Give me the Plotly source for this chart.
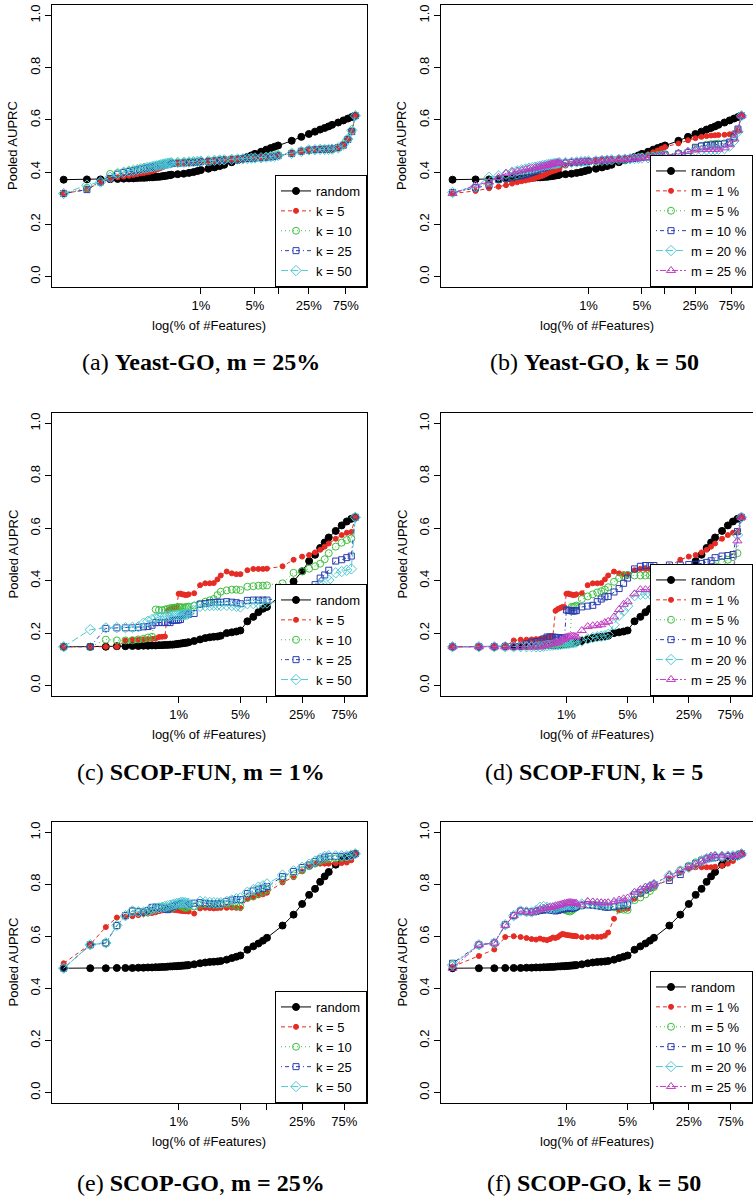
import math
import plotly.graph_objects as go

W, H = 753, 1198

# ---------------- x grids (number of selected features) ----------------
yeast_total_features = 6000
yeast_feature_counts = list(range(1, 26)) + [
    30, 36, 42, 48, 54, 60, 75, 90, 105, 120, 150, 180, 210, 240, 270, 300,
    360, 420, 480, 540, 600, 900, 1200, 1500, 1800, 2100, 2400, 2700, 3000,
    3600, 4200, 4800, 5400, 6000]
scop_total_features = 2000
scop_feature_counts = list(range(1, 27)) + [
    30, 35, 40, 45, 50, 55, 60, 70, 80, 90, 100, 120, 140, 160, 180, 200,
    300, 400, 500, 600, 700, 800, 900, 1000, 1200, 1400, 1600, 1800, 2000]

yeast_pct = [100.0 * c / yeast_total_features for c in yeast_feature_counts]
scop_pct = [100.0 * c / scop_total_features for c in scop_feature_counts]

# ---------------- Yeast-GO ----------------
yeast_random = [0.371, 0.372, 0.372, 0.373, 0.374, 0.375, 0.376, 0.376, 0.377, 0.378, 0.378, 0.379, 0.380,
                0.380, 0.381, 0.382, 0.382, 0.383, 0.384, 0.385, 0.386, 0.387, 0.388, 0.389, 0.390,
                0.392, 0.394, 0.397, 0.400, 0.404, 0.408, 0.413, 0.418, 0.423, 0.428, 0.438, 0.446, 0.452,
                0.458, 0.464, 0.470, 0.478, 0.486, 0.492, 0.497, 0.502, 0.520, 0.535, 0.546, 0.555, 0.563,
                0.569, 0.575, 0.581, 0.590, 0.598, 0.605, 0.611, 0.616]
yeast_k5 = [0.318, 0.333, 0.362, 0.375, 0.380, 0.383, 0.386, 0.389, 0.392, 0.395, 0.397, 0.399, 0.401,
            0.404, 0.407, 0.410, 0.413, 0.416, 0.419, 0.422, 0.425, 0.427, 0.429, 0.431, 0.433,
            0.435, 0.437, 0.438, 0.439, 0.440, 0.441, 0.443, 0.444, 0.446, 0.447, 0.449, 0.450, 0.451,
            0.452, 0.453, 0.454, 0.455, 0.457, 0.459, 0.461, 0.464, 0.472, 0.479, 0.484, 0.486, 0.487,
            0.487, 0.487, 0.488, 0.493, 0.504, 0.526, 0.558, 0.616]
yeast_k10 = [0.318, 0.340, 0.362, 0.393, 0.396, 0.400, 0.404, 0.407, 0.410, 0.413, 0.415, 0.417, 0.419,
             0.421, 0.423, 0.425, 0.427, 0.429, 0.430, 0.431, 0.432, 0.433, 0.434, 0.435, 0.436,
             0.437, 0.438, 0.439, 0.440, 0.441, 0.442, 0.443, 0.445, 0.446, 0.447, 0.449, 0.450, 0.451,
             0.452, 0.453, 0.454, 0.456, 0.458, 0.461, 0.463, 0.466, 0.473, 0.480, 0.485, 0.486, 0.487,
             0.487, 0.488, 0.488, 0.493, 0.505, 0.527, 0.558, 0.616]
yeast_k25 = [0.318, 0.333, 0.362, 0.376, 0.392, 0.398, 0.402, 0.405, 0.408, 0.411, 0.413, 0.415, 0.417,
             0.419, 0.421, 0.422, 0.424, 0.425, 0.427, 0.428, 0.429, 0.430, 0.431, 0.432, 0.433,
             0.434, 0.435, 0.436, 0.437, 0.438, 0.440, 0.441, 0.443, 0.445, 0.447, 0.449, 0.450, 0.451,
             0.452, 0.453, 0.454, 0.455, 0.457, 0.458, 0.460, 0.463, 0.471, 0.480, 0.484, 0.486, 0.487,
             0.488, 0.488, 0.489, 0.494, 0.503, 0.525, 0.555, 0.616]
yeast_k50 = [0.318, 0.350, 0.362, 0.380, 0.395, 0.400, 0.404, 0.407, 0.410, 0.413, 0.415, 0.417, 0.419,
             0.421, 0.423, 0.424, 0.426, 0.428, 0.429, 0.431, 0.432, 0.433, 0.434, 0.435, 0.436,
             0.437, 0.438, 0.439, 0.440, 0.441, 0.442, 0.443, 0.445, 0.446, 0.447, 0.449, 0.450, 0.451,
             0.452, 0.453, 0.454, 0.455, 0.457, 0.459, 0.461, 0.464, 0.472, 0.479, 0.485, 0.486, 0.487,
             0.487, 0.487, 0.488, 0.493, 0.505, 0.527, 0.560, 0.616]
yeast_m1 = [0.318, 0.328, 0.338, 0.344, 0.350, 0.356, 0.361, 0.365, 0.368, 0.371, 0.374, 0.377, 0.380,
            0.383, 0.386, 0.390, 0.394, 0.398, 0.401, 0.403, 0.405, 0.407, 0.409, 0.411, 0.413,
            0.425, 0.432, 0.436, 0.438, 0.440, 0.441, 0.443, 0.445, 0.446, 0.447, 0.449, 0.450, 0.452,
            0.455, 0.457, 0.460, 0.468, 0.476, 0.483, 0.490, 0.496, 0.510, 0.522, 0.530, 0.535, 0.538,
            0.540, 0.541, 0.542, 0.543, 0.545, 0.550, 0.565, 0.616]
yeast_m5 = [0.320, 0.340, 0.360, 0.370, 0.376, 0.382, 0.388, 0.393, 0.397, 0.401, 0.405, 0.408, 0.411,
            0.414, 0.417, 0.419, 0.421, 0.423, 0.425, 0.427, 0.428, 0.429, 0.430, 0.431, 0.432,
            0.434, 0.436, 0.438, 0.439, 0.440, 0.441, 0.443, 0.445, 0.446, 0.447, 0.449, 0.450, 0.452,
            0.454, 0.456, 0.458, 0.461, 0.463, 0.465, 0.467, 0.469, 0.472, 0.476, 0.490, 0.500, 0.505,
            0.507, 0.508, 0.509, 0.510, 0.512, 0.530, 0.560, 0.616]
yeast_m10 = [0.322, 0.340, 0.350, 0.372, 0.376, 0.380, 0.383, 0.386, 0.390, 0.395, 0.400, 0.404, 0.408,
             0.412, 0.415, 0.418, 0.421, 0.423, 0.425, 0.427, 0.429, 0.430, 0.431, 0.432, 0.433,
             0.435, 0.437, 0.438, 0.439, 0.440, 0.441, 0.443, 0.445, 0.446, 0.447, 0.449, 0.450, 0.451,
             0.452, 0.454, 0.456, 0.458, 0.460, 0.462, 0.464, 0.466, 0.470, 0.475, 0.495, 0.500, 0.502,
             0.504, 0.505, 0.506, 0.508, 0.515, 0.535, 0.565, 0.616]
yeast_m20 = [0.322, 0.345, 0.380, 0.385, 0.392, 0.400, 0.405, 0.409, 0.412, 0.415, 0.417, 0.419, 0.421,
             0.423, 0.425, 0.426, 0.428, 0.429, 0.430, 0.431, 0.432, 0.433, 0.434, 0.435, 0.436,
             0.437, 0.438, 0.439, 0.440, 0.441, 0.442, 0.443, 0.445, 0.446, 0.447, 0.449, 0.450, 0.451,
             0.452, 0.453, 0.454, 0.455, 0.456, 0.458, 0.460, 0.462, 0.468, 0.475, 0.482, 0.484, 0.485,
             0.486, 0.486, 0.487, 0.490, 0.500, 0.520, 0.555, 0.616]
yeast_m25 = yeast_k50  # same setting (k = 50, m = 25%)

# ---------------- SCOP-FUN ----------------
scopfun_random = [0.148, 0.148, 0.148, 0.150, 0.150, 0.151, 0.151, 0.152, 0.152, 0.153, 0.153, 0.154, 0.154,
                  0.155, 0.155, 0.156, 0.156, 0.157, 0.158, 0.159, 0.160, 0.161, 0.162, 0.163, 0.164, 0.165,
                  0.170, 0.176, 0.181, 0.184, 0.186, 0.187, 0.190, 0.200, 0.203, 0.206, 0.210, 0.245, 0.262,
                  0.280, 0.293, 0.300, 0.350, 0.397, 0.436, 0.475, 0.499, 0.525, 0.546, 0.565, 0.590, 0.611,
                  0.626, 0.636, 0.642]
scopfun_k5 = [0.148, 0.148, 0.148, 0.148, 0.172, 0.175, 0.175, 0.176, 0.177, 0.178, 0.180, 0.185, 0.186,
              0.187, 0.285, 0.292, 0.296, 0.300, 0.299, 0.350, 0.351, 0.348, 0.347, 0.345, 0.346, 0.348,
              0.352, 0.383, 0.390, 0.390, 0.391, 0.405, 0.420, 0.435, 0.428, 0.425, 0.425, 0.440, 0.445,
              0.445, 0.445, 0.446, 0.455, 0.480, 0.492, 0.498, 0.508, 0.518, 0.530, 0.542, 0.560, 0.574,
              0.583, 0.586, 0.642]
scopfun_k10 = [0.148, 0.148, 0.175, 0.172, 0.172, 0.173, 0.176, 0.178, 0.183, 0.186, 0.290, 0.288, 0.287,
               0.290, 0.292, 0.295, 0.296, 0.297, 0.298, 0.300, 0.299, 0.298, 0.297, 0.299, 0.300, 0.301,
               0.305, 0.312, 0.320, 0.325, 0.330, 0.345, 0.358, 0.363, 0.366, 0.366, 0.364, 0.377, 0.379,
               0.381, 0.381, 0.382, 0.390, 0.430, 0.436, 0.446, 0.455, 0.465, 0.482, 0.505, 0.530, 0.545,
               0.555, 0.561, 0.642]
scopfun_k25 = [0.148, 0.148, 0.218, 0.220, 0.220, 0.220, 0.222, 0.224, 0.225, 0.230, 0.240, 0.240, 0.241,
               0.240, 0.241, 0.240, 0.248, 0.250, 0.249, 0.250, 0.252, 0.268, 0.270, 0.271, 0.272, 0.272,
               0.275, 0.310, 0.313, 0.316, 0.317, 0.318, 0.318, 0.320, 0.318, 0.316, 0.312, 0.325, 0.326,
               0.326, 0.326, 0.326, 0.336, 0.350, 0.362, 0.372, 0.385, 0.410, 0.422, 0.440, 0.475, 0.480,
               0.488, 0.494, 0.642]
scopfun_k50 = [0.148, 0.213, 0.220, 0.221, 0.221, 0.222, 0.224, 0.238, 0.245, 0.252, 0.258, 0.262, 0.264,
               0.265, 0.266, 0.266, 0.267, 0.267, 0.268, 0.268, 0.268, 0.269, 0.270, 0.271, 0.272, 0.275,
               0.300, 0.302, 0.304, 0.305, 0.306, 0.306, 0.305, 0.306, 0.305, 0.302, 0.300, 0.312, 0.313,
               0.313, 0.314, 0.315, 0.322, 0.336, 0.345, 0.355, 0.366, 0.380, 0.390, 0.402, 0.430, 0.435,
               0.440, 0.445, 0.642]
scopfun_m1 = scopfun_k5  # same setting (k = 5, m = 1%)
scopfun_m5 = [0.148, 0.148, 0.148, 0.148, 0.148, 0.149, 0.150, 0.151, 0.152, 0.153, 0.154, 0.155, 0.156,
              0.157, 0.158, 0.159, 0.160, 0.161, 0.162, 0.163, 0.164, 0.165, 0.300, 0.300, 0.302, 0.305,
              0.330, 0.340, 0.348, 0.355, 0.360, 0.366, 0.375, 0.396, 0.410, 0.418, 0.422, 0.420, 0.420,
              0.420, 0.421, 0.421, 0.424, 0.430, 0.436, 0.440, 0.442, 0.445, 0.448, 0.455, 0.470, 0.480,
              0.490, 0.505, 0.642]
scopfun_m10 = [0.148, 0.148, 0.148, 0.148, 0.148, 0.150, 0.160, 0.165, 0.168, 0.170, 0.178, 0.185, 0.186,
               0.185, 0.184, 0.183, 0.182, 0.181, 0.182, 0.288, 0.287, 0.286, 0.285, 0.284, 0.285, 0.286,
               0.300, 0.303, 0.306, 0.320, 0.330, 0.338, 0.340, 0.357, 0.370, 0.390, 0.410, 0.445, 0.455,
               0.458, 0.458, 0.458, 0.460, 0.460, 0.462, 0.463, 0.466, 0.470, 0.476, 0.488, 0.494, 0.496,
               0.500, 0.588, 0.642]
scopfun_m20 = [0.148, 0.148, 0.148, 0.148, 0.148, 0.148, 0.148, 0.148, 0.148, 0.148, 0.150, 0.152, 0.153,
               0.154, 0.155, 0.156, 0.157, 0.158, 0.159, 0.160, 0.161, 0.162, 0.163, 0.164, 0.165, 0.166,
               0.170, 0.178, 0.183, 0.186, 0.188, 0.190, 0.195, 0.232, 0.268, 0.285, 0.303, 0.343, 0.348,
               0.349, 0.350, 0.350, 0.350, 0.350, 0.351, 0.352, 0.353, 0.354, 0.355, 0.356, 0.358, 0.368,
               0.402, 0.575, 0.642]
scopfun_m25 = [0.148, 0.148, 0.148, 0.148, 0.148, 0.148, 0.148, 0.148, 0.148, 0.148, 0.152, 0.155, 0.158,
               0.160, 0.162, 0.165, 0.170, 0.175, 0.180, 0.185, 0.186, 0.187, 0.188, 0.188, 0.187, 0.186,
               0.210, 0.225, 0.228, 0.230, 0.232, 0.240, 0.245, 0.262, 0.290, 0.310, 0.320, 0.350, 0.366,
               0.366, 0.366, 0.366, 0.368, 0.368, 0.369, 0.370, 0.370, 0.371, 0.372, 0.372, 0.374, 0.378,
               0.435, 0.552, 0.642]

# ---------------- SCOP-GO ----------------
scopgo_random = [0.478, 0.478, 0.478, 0.479, 0.479, 0.479, 0.480, 0.480, 0.481, 0.481, 0.482, 0.482, 0.483,
                 0.483, 0.484, 0.485, 0.485, 0.486, 0.486, 0.487, 0.487, 0.488, 0.488, 0.489, 0.489, 0.490,
                 0.493, 0.497, 0.500, 0.502, 0.503, 0.504, 0.506, 0.511, 0.517, 0.522, 0.527, 0.549, 0.562,
                 0.573, 0.584, 0.595, 0.642, 0.684, 0.725, 0.760, 0.783, 0.810, 0.831, 0.848, 0.876, 0.895,
                 0.905, 0.912, 0.918]
scopgo_k5 = [0.497, 0.570, 0.636, 0.673, 0.676, 0.678, 0.682, 0.686, 0.688, 0.690, 0.693, 0.697, 0.700,
             0.703, 0.706, 0.706, 0.703, 0.702, 0.701, 0.700, 0.699, 0.698, 0.698, 0.697, 0.697, 0.696,
             0.688, 0.708, 0.710, 0.709, 0.708, 0.709, 0.710, 0.710, 0.711, 0.710, 0.709, 0.745, 0.750,
             0.758, 0.762, 0.768, 0.808, 0.828, 0.850, 0.868, 0.878, 0.880, 0.880, 0.880, 0.881, 0.882,
             0.884, 0.893, 0.918]
scopgo_k10 = [0.478, 0.568, 0.575, 0.642, 0.680, 0.698, 0.695, 0.694, 0.693, 0.700, 0.710, 0.712, 0.715,
              0.712, 0.708, 0.705, 0.710, 0.715, 0.720, 0.722, 0.718, 0.715, 0.712, 0.710, 0.712, 0.715,
              0.715, 0.722, 0.725, 0.723, 0.722, 0.722, 0.723, 0.725, 0.722, 0.718, 0.715, 0.748, 0.755,
              0.765, 0.772, 0.780, 0.818, 0.835, 0.855, 0.870, 0.880, 0.890, 0.895, 0.898, 0.900, 0.902,
              0.905, 0.910, 0.918]
scopgo_k25 = [0.478, 0.568, 0.575, 0.642, 0.680, 0.698, 0.695, 0.693, 0.700, 0.712, 0.713, 0.711, 0.708,
              0.705, 0.703, 0.710, 0.716, 0.718, 0.722, 0.725, 0.727, 0.728, 0.726, 0.724, 0.722, 0.725,
              0.728, 0.730, 0.728, 0.726, 0.725, 0.726, 0.728, 0.735, 0.740, 0.742, 0.742, 0.765, 0.775,
              0.782, 0.785, 0.792, 0.830, 0.850, 0.865, 0.875, 0.888, 0.898, 0.905, 0.908, 0.908, 0.908,
              0.909, 0.912, 0.918]
scopgo_k50 = [0.478, 0.568, 0.575, 0.643, 0.680, 0.698, 0.695, 0.693, 0.698, 0.705, 0.708, 0.710, 0.712,
              0.715, 0.718, 0.720, 0.722, 0.725, 0.727, 0.728, 0.730, 0.731, 0.730, 0.729, 0.728, 0.727,
              0.722, 0.735, 0.733, 0.731, 0.730, 0.729, 0.730, 0.735, 0.740, 0.745, 0.748, 0.770, 0.780,
              0.790, 0.795, 0.802, 0.836, 0.852, 0.866, 0.878, 0.890, 0.900, 0.908, 0.910, 0.910, 0.910,
              0.910, 0.913, 0.918]
scopgo_m1 = [0.484, 0.525, 0.550, 0.598, 0.601, 0.598, 0.594, 0.590, 0.588, 0.592, 0.588, 0.586, 0.590,
             0.596, 0.594, 0.598, 0.605, 0.610, 0.608, 0.606, 0.605, 0.604, 0.603, 0.602, 0.602, 0.601,
             0.597, 0.598, 0.599, 0.598, 0.599, 0.603, 0.615, 0.668, 0.700, 0.706, 0.707, 0.745, 0.762,
             0.775, 0.782, 0.790, 0.822, 0.845, 0.860, 0.866, 0.866, 0.866, 0.866, 0.868, 0.872, 0.880,
             0.890, 0.904, 0.918]
scopgo_m5 = [0.490, 0.568, 0.575, 0.645, 0.680, 0.698, 0.695, 0.694, 0.696, 0.700, 0.702, 0.705, 0.703,
             0.702, 0.704, 0.705, 0.708, 0.706, 0.703, 0.700, 0.698, 0.696, 0.700, 0.705, 0.710, 0.712,
             0.718, 0.722, 0.722, 0.720, 0.718, 0.716, 0.714, 0.712, 0.705, 0.703, 0.702, 0.740, 0.750,
             0.762, 0.775, 0.790, 0.830, 0.855, 0.872, 0.885, 0.895, 0.900, 0.902, 0.903, 0.904, 0.906,
             0.908, 0.911, 0.918]
scopgo_m10 = [0.497, 0.568, 0.575, 0.645, 0.680, 0.698, 0.695, 0.694, 0.696, 0.700, 0.702, 0.703, 0.702,
              0.700, 0.698, 0.700, 0.703, 0.705, 0.706, 0.708, 0.708, 0.707, 0.708, 0.710, 0.712, 0.715,
              0.720, 0.722, 0.720, 0.718, 0.716, 0.713, 0.712, 0.715, 0.718, 0.720, 0.722, 0.760, 0.768,
              0.780, 0.790, 0.798, 0.815, 0.838, 0.868, 0.880, 0.890, 0.898, 0.902, 0.904, 0.905, 0.907,
              0.908, 0.910, 0.918]
scopgo_m20 = [0.490, 0.568, 0.575, 0.645, 0.680, 0.698, 0.695, 0.694, 0.700, 0.712, 0.715, 0.712, 0.710,
              0.708, 0.710, 0.713, 0.716, 0.718, 0.720, 0.722, 0.723, 0.722, 0.721, 0.720, 0.722, 0.723,
              0.725, 0.728, 0.727, 0.725, 0.724, 0.723, 0.724, 0.725, 0.728, 0.730, 0.730, 0.765, 0.775,
              0.785, 0.792, 0.800, 0.835, 0.852, 0.866, 0.878, 0.890, 0.900, 0.905, 0.908, 0.908, 0.909,
              0.910, 0.912, 0.918]
scopgo_m25 = scopgo_k50  # same setting (k = 50, m = 25%)

k_labels = ["random", "k = 5", "k = 10", "k = 25", "k = 50"]
m_labels = ["random", "m = 1 %", "m = 5 %", "m = 10 %", "m = 20 %", "m = 25 %"]

captions = ["(a) <b>Yeast-GO</b>, <b>m = 25%</b>", "(b) <b>Yeast-GO</b>, <b>k = 50</b>",
            "(c) <b>SCOP-FUN</b>, <b>m = 1%</b>", "(d) <b>SCOP-FUN</b>, <b>k = 5</b>",
            "(e) <b>SCOP-GO</b>, <b>m = 25%</b>", "(f) <b>SCOP-GO</b>, <b>k = 50</b>"]

x_tick_vals = [1, 5, 10, 25, 75]
x_tick_text = ["1%", "5%", "", "25%", "75%"]
y_tick_vals = [0, 0.2, 0.4, 0.6, 0.8, 1.0]
y_tick_text = ["0.0", "0.2", "0.4", "0.6", "0.8", "1.0"]

RED, GREEN, BLUE, CYAN, MAGENTA = "#E62B25", "#3EBF3E", "#2B3DB0", "#4FCAD2", "#C43AC4"
styles = [
    dict(color="#000000", dash="solid", symbol="circle", size=7),
    dict(color=RED, dash="4px,3px", symbol="circle", size=5),
    dict(color=GREEN, dash="1px,3px", symbol="circle-open", size=7),
    dict(color=BLUE, dash="1px,3px,4px,3px", symbol="square-open", size=6),
    dict(color=CYAN, dash="7px,3px", symbol="diamond-open", size=8),
    dict(color=MAGENTA, dash="2px,2px,6px,2px", symbol="triangle-up-open", size=8),
]

panels = [
    (yeast_pct, [yeast_random, yeast_k5, yeast_k10, yeast_k25, yeast_k50], k_labels),
    (yeast_pct, [yeast_random, yeast_m1, yeast_m5, yeast_m10, yeast_m20, yeast_m25], m_labels),
    (scop_pct, [scopfun_random, scopfun_k5, scopfun_k10, scopfun_k25, scopfun_k50], k_labels),
    (scop_pct, [scopfun_random, scopfun_m1, scopfun_m5, scopfun_m10, scopfun_m20, scopfun_m25], m_labels),
    (scop_pct, [scopgo_random, scopgo_k5, scopgo_k10, scopgo_k25, scopgo_k50], k_labels),
    (scop_pct, [scopgo_random, scopgo_m1, scopgo_m5, scopgo_m10, scopgo_m20, scopgo_m25], m_labels),
]

for xs, series, _ in panels:
    for s in series:
        assert len(s) == len(xs), (len(s), len(xs))

# ---------------- geometry (pixels) ----------------
col_px = [(52, 367), (441, 753)]
row_px = [(5, 287), (413, 696), (822, 1103)]
caption_y = [362, 772, 1183]
caption_x = [201, 594]
ytitle_x = [13, 402]

SANS = "Liberation Sans, Arial, Helvetica, sans-serif"
SERIF = "Liberation Serif, Times New Roman, serif"

fig = go.Figure()
layout = dict(width=W, height=H, margin=dict(l=0, r=0, t=0, b=0),
              paper_bgcolor="white", plot_bgcolor="white", showlegend=True,
              font=dict(family=SANS, size=13, color="black"))
annotations = []

for i, (xs, series, labels) in enumerate(panels):
    r, c = divmod(i, 2)
    idx = "" if i == 0 else str(i + 1)
    x0, x1 = col_px[c]
    t, b = row_px[r]
    xdom = [x0 / W, min(x1 / W, 1.0)]
    ydom = [1 - b / H, 1 - t / H]
    lo, hi = math.log10(min(xs)), math.log10(max(xs))
    span = hi - lo
    xr = [lo - 0.04 * span, hi + 0.04 * span]

    layout["xaxis" + idx] = dict(domain=xdom, anchor="y" + idx, type="log", range=xr,
                                 tickvals=x_tick_vals, ticktext=x_tick_text,
                                 ticks="outside", ticklen=6, tickwidth=1, tickcolor="black",
                                 showline=True, linecolor="black", linewidth=1, mirror=True,
                                 showgrid=False, zeroline=False,
                                 tickfont=dict(size=13, family=SANS, color="black"))
    layout["yaxis" + idx] = dict(domain=ydom, anchor="x" + idx, range=[-0.04, 1.04],
                                 tickvals=y_tick_vals, ticktext=y_tick_text, tickangle=-90,
                                 ticks="outside", ticklen=6, tickwidth=1, tickcolor="black",
                                 showline=True, linecolor="black", linewidth=1, mirror=True,
                                 showgrid=False, zeroline=False,
                                 tickfont=dict(size=13, family=SANS, color="black"))
    leg_name = "legend" + idx
    layout[leg_name] = dict(x=xdom[1], xanchor="right", y=ydom[0], yanchor="bottom",
                            bgcolor="white", bordercolor="black", borderwidth=1,
                            font=dict(size=13, family=SANS, color="black"),
                            itemwidth=30, tracegroupgap=0)

    for j, (vals, name) in enumerate(zip(series, labels)):
        st = styles[j]
        fig.add_trace(go.Scatter(
            x=xs, y=vals, name=name, mode="lines+markers",
            xaxis="x" + idx, yaxis="y" + idx, legend=leg_name,
            line=dict(color=st["color"], width=1, dash=st["dash"]),
            marker=dict(symbol=st["symbol"], size=st["size"], color=st["color"],
                        line=dict(color=st["color"], width=1)),
        ))

    annotations.append(dict(text="Pooled AUPRC", x=ytitle_x[c] / W, y=(ydom[0] + ydom[1]) / 2,
                            xref="paper", yref="paper", showarrow=False, textangle=-90,
                            xanchor="center", yanchor="middle",
                            font=dict(size=13, family=SANS, color="black")))
    annotations.append(dict(text="log(% of #Features)", x=(x0 + x1) / 2 / W, y=1 - (b + 38) / H,
                            xref="paper", yref="paper", showarrow=False,
                            xanchor="center", yanchor="middle",
                            font=dict(size=13, family=SANS, color="black")))
    annotations.append(dict(text=captions[i], x=caption_x[c] / W, y=1 - caption_y[r] / H,
                            xref="paper", yref="paper", showarrow=False,
                            xanchor="center", yanchor="middle",
                            font=dict(size=24, family=SERIF, color="black")))

layout["annotations"] = annotations
fig.update_layout(**layout)
fig.write_html(
    "out.html",
    config={"displayModeBar": False},
    post_script=("document.body.style.margin='0px';document.body.style.padding='0px';"
                 "document.body.style.overflow='hidden';"),
)
